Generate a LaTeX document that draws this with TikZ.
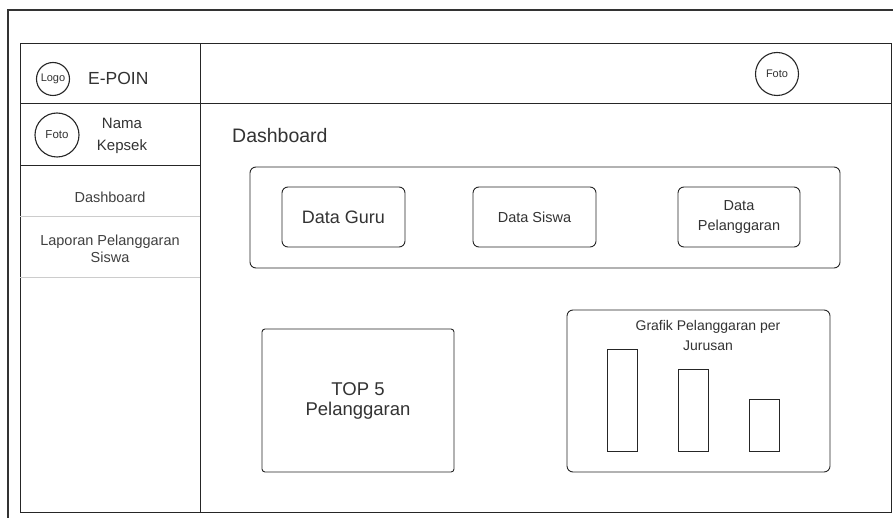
\documentclass[tikz,border=0pt]{standalone}
\usepackage{fontspec}
\setmainfont{Liberation Sans}
\begin{document}
\begin{tikzpicture}[x=1pt,y=-1pt,
  frame/.style={draw=black!85, line width=1.3pt, inner sep=0pt, anchor=north west},
  rbox/.style={draw=black!85, line width=0.9pt, rounded corners=6pt, inner sep=0pt, text=black!80, align=center},
  circ/.style={draw=black!85, line width=1.1pt, circle, inner sep=0pt, text=black!80},
  bar/.style={draw=black!85, line width=1pt, inner sep=0pt, anchor=south west},
  lbl/.style={text=black!80, align=center, inner sep=0pt},
  sep/.style={draw=black!20, line width=1pt}]
\useasboundingbox (0,0) rectangle (893,518);
\fill[white] (0,0) rectangle (893,518);
% outer frame
\coordinate (ftr) at (893,10);
\coordinate (ftl) at (8,10);
\coordinate (fbl) at (8,518);
\draw[black!80, line width=1.3pt] (ftr) -- (ftl) -- (fbl);
% main areas
\node[frame, minimum width=691pt, minimum height=409pt] (main) at (200,103) {};
\node[frame, minimum width=180pt, minimum height=409pt] (side) at (20,103) {};
\node[frame, minimum width=691pt, minimum height=60pt] (head) at (200,43) {};
\node[frame, minimum width=180pt, minimum height=60pt] (brand) at (20,43) {};
\node[frame, minimum width=180pt, minimum height=62pt] (prof) at (20,103) {};
% brand
\node[circ, minimum size=33pt, font=\fontsize{11}{12}\selectfont] (logo) at (53,79) {Logo};
\node[lbl, anchor=west, font=\fontsize{17.5}{20}\selectfont] (epoin) at (88,78) {E-POIN};
% profile
\node[circ, minimum size=44pt, font=\fontsize{11.5}{12}\selectfont] (foto1) at (57,135) {Foto};
\node[lbl, font=\fontsize{15}{22}\selectfont] (nama) at (122,136) {Nama\\Kepsek};
% header foto
\node[circ, minimum size=43pt, font=\fontsize{11}{12}\selectfont] (foto2) at (777,74) {Foto};
% menu
\node[lbl, text=black!75, font=\fontsize{14.5}{17}\selectfont] (mdash) at (110,197) {Dashboard};
\coordinate (s1l) at (20,217); \coordinate (s1r) at (200,217);
\coordinate (s2l) at (20,278); \coordinate (s2r) at (200,278);
\draw[sep] (s1l) -- (s1r);
\draw[sep] (s2l) -- (s2r);
\node[lbl, text=black!75, font=\fontsize{14.5}{17.5}\selectfont] (mlap) at (110,249) {Laporan Pelanggaran\\Siswa};
% title
\node[lbl, anchor=west, font=\fontsize{19.5}{22}\selectfont] (title) at (232,136) {Dashboard};
% container
\node[rbox, minimum width=590pt, minimum height=101pt] (cont) at (545,217.5) {};
\node[rbox, minimum width=123pt, minimum height=60pt, font=\fontsize{18}{20}\selectfont] (guru) at (343.5,217) {Data Guru};
\node[rbox, minimum width=123pt, minimum height=60pt, font=\fontsize{14.5}{17}\selectfont] (siswa) at (534.5,217) {Data Siswa};
\node[rbox, minimum width=122pt, minimum height=60pt, font=\fontsize{14.5}{20}\selectfont] (pel) at (739,217) {Data\\Pelanggaran};
% top 5
\node[rbox, rounded corners=3pt, minimum width=192pt, minimum height=143pt, font=\fontsize{18.5}{20}\selectfont] (top5) at (358,400.5) {TOP 5\\Pelanggaran};
% grafik
\node[rbox, minimum width=263pt, minimum height=162pt] (graf) at (698.5,391) {};
\node[lbl, font=\fontsize{14}{19.5}\selectfont] (graft) at (708,335.5) {Grafik Pelanggaran per\\Jurusan};
\node[bar, minimum width=30pt, minimum height=102pt] (b1) at (607,452) {};
\node[bar, minimum width=30pt, minimum height=82pt] (b2) at (678,452) {};
\node[bar, minimum width=30pt, minimum height=52pt] (b3) at (749,452) {};
\end{tikzpicture}
\end{document}
